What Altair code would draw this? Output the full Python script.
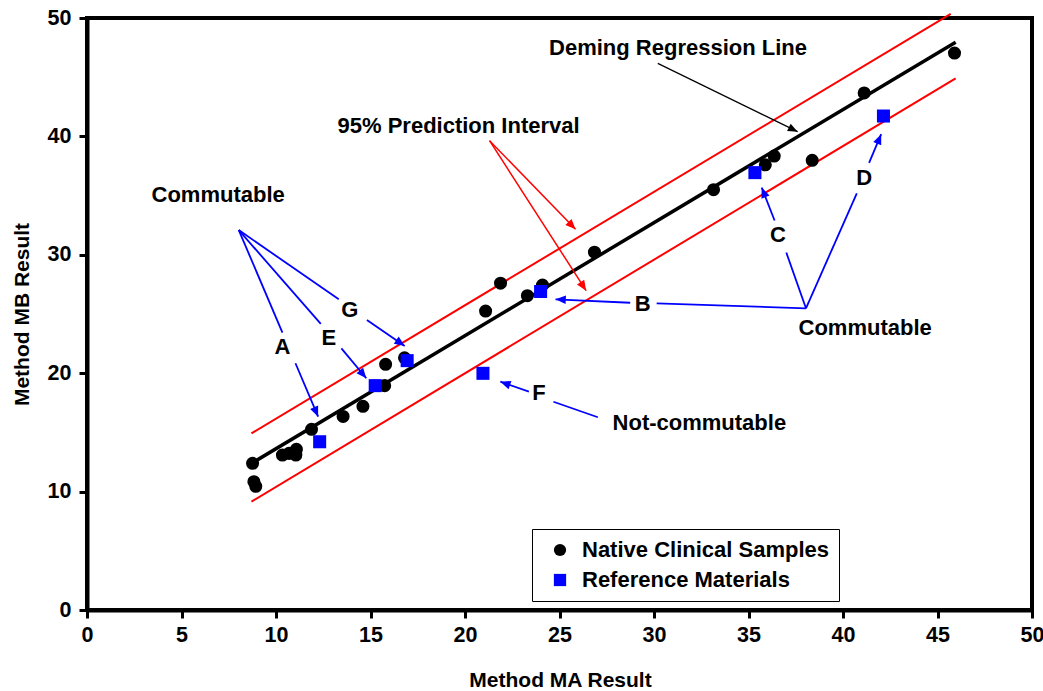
import math
import altair as alt
import pandas as pd

# ---------------- data ----------------
native_x = [8.76, 8.83, 8.93, 10.34, 10.69, 11.08, 11.05, 11.88, 13.55, 14.60, 15.75, 15.80,
            16.80, 21.09, 21.88, 23.30, 24.10, 26.85, 33.15, 35.89, 36.36, 38.37, 41.12, 45.90]
native_y = [12.39, 10.84, 10.45, 13.09, 13.23, 13.57, 13.09, 15.26, 16.35, 17.20, 18.95, 20.75,
            21.30, 25.25, 27.60, 26.55, 27.45, 30.22, 35.50, 37.60, 38.34, 37.98, 43.67, 47.04]

ref_x = [12.31, 15.25, 16.94, 20.95, 24.00, 35.34, 42.14]
ref_y = [14.21, 18.95, 21.06, 19.99, 26.90, 36.94, 41.72]

groups = ["Native Clinical Samples", "Reference Materials"]

# regression line and 95% prediction interval (end points)
line_x1 = [8.70, 8.72, 8.70]
line_y1 = [14.92, 12.40, 9.15]
line_x2 = [45.70, 45.96, 45.96]
line_y2 = [50.35, 47.95, 44.90]
line_color = ["red", "black", "red"]
line_width = [2.0, 3.5, 2.0]

# annotation connector segments
seg_x1 = [8.03, 11.03, 8.03, 13.46, 8.03, 14.81, 21.30, 21.30, 30.20, 28.74, 38.04, 38.04, 36.38, 38.04, 41.38, 23.38, 24.68]
seg_y1 = [32.09, 20.84, 32.09, 22.10, 32.09, 24.49, 39.64, 39.64, 46.17, 25.95, 25.48, 25.48, 32.90, 25.48, 37.76, 18.44, 17.59]
seg_x2 = [10.34, 12.23, 12.37, 14.78, 13.32, 16.81, 25.85, 26.41, 37.60, 24.79, 30.14, 37.00, 35.70, 40.73, 42.02, 21.87, 27.03]
seg_y2 = [23.42, 16.33, 24.16, 19.57, 26.24, 22.30, 32.15, 26.97, 40.40, 26.24, 25.90, 30.19, 35.68, 35.19, 40.19, 19.28, 16.28]
seg_color = ["blue"] * 6 + ["red", "red", "black"] + ["blue"] * 8
seg_arrow = [False, True, False, True, False, True, True, True, True, True, False, False, True, False, True, True, False]

# annotation texts
text_label = ["Deming Regression Line", "95% Prediction Interval", "Commutable", "A", "E", "G",
              "B", "C", "D", "F", "Commutable", "Not-commutable"]
text_x = [31.27, 19.66, 6.94, 10.34, 12.79, 13.90, 29.40, 36.56, 41.12, 23.91, 41.17, 32.40]
text_y = [47.44, 40.88, 35.05, 22.24, 23.00, 25.34, 25.84, 31.67, 36.48, 18.35, 23.82, 15.77]

x_ticks = [0, 5, 10, 15, 20, 25, 30, 35, 40, 45, 50]
y_ticks = [0, 10, 20, 30, 40, 50]

# ---------------- layout ----------------
W, H = 945, 592
FONT = "Liberation Sans"
px_x = W / 50.0
px_y = H / 50.0

xs = alt.Scale(domain=[0, 50], nice=False, zero=False)
ys = alt.Scale(domain=[0, 50], nice=False, zero=False)

x_axis = alt.Axis(values=x_ticks, title="Method MA Result", grid=False, format="d", labelFlush=False,
                  domainColor="black", domainWidth=4, tickColor="black", tickWidth=3, tickSize=8,
                  labelFont=FONT, labelFontWeight="bold", labelFontSize=21.5, labelColor="black",
                  labelPadding=6, titleFont=FONT, titleFontWeight="bold", titleFontSize=21,
                  titleColor="black", titleX=473, titleY=70, titleBaseline="middle")
y_axis = alt.Axis(values=y_ticks, title="Method MB Result", grid=False, format="d", labelFlush=False,
                  domainColor="black", domainWidth=4, tickColor="black", tickWidth=3, tickSize=8,
                  labelFont=FONT, labelFontWeight="bold", labelFontSize=21.5, labelColor="black",
                  labelPadding=8, titleFont=FONT, titleFontWeight="bold", titleFontSize=21,
                  titleColor="black", titleX=-65, titleY=296, titleBaseline="middle")

X = alt.X("x:Q", scale=xs, axis=x_axis)
Y = alt.Y("y:Q", scale=ys, axis=y_axis)

layers = []

# regression + prediction interval lines
lines_df = pd.DataFrame({"x": line_x1, "y": line_y1, "x2": line_x2, "y2": line_y2,
                         "c": line_color, "w": line_width})
for c, w in [("red", 2.0), ("black", 3.5)]:
    d = lines_df[(lines_df.c == c) & (lines_df.w == w)]
    layers.append(alt.Chart(d).mark_rule(color=c, strokeWidth=w, strokeCap="butt").encode(
        x=X, y=Y, x2="x2:Q", y2="y2:Q"))

# annotation segments
seg_df = pd.DataFrame({"x": seg_x1, "y": seg_y1, "x2": seg_x2, "y2": seg_y2,
                       "c": seg_color, "arrow": seg_arrow})
widths = {"blue": 1.8, "red": 1.5, "black": 1.2}
for c in ["blue", "red", "black"]:
    d = seg_df[seg_df.c == c]
    layers.append(alt.Chart(d).mark_rule(color=c, strokeWidth=widths[c]).encode(
        x=X, y=Y, x2="x2:Q", y2="y2:Q"))

# arrow heads at segment ends
heads = seg_df[seg_df.arrow].copy()
heads["angle"] = [
    (math.degrees(math.atan2((b2 - b1) * px_x, (d2 - d1) * px_y)) + 360) % 360
    for b1, d1, b2, d2 in zip(heads.x, heads.y, heads.x2, heads.y2)
]
heads["x"] = heads["x2"]
heads["y"] = heads["y2"]
for c in ["blue", "red", "black"]:
    d = heads[heads.c == c][["x", "y", "angle"]]
    if len(d) == 0:
        continue
    layers.append(alt.Chart(d).mark_point(shape="M0,0L-0.42,1L0.42,1Z", filled=True, color=c,
                                          opacity=1, size=420 if c != "black" else 380,
                                          strokeWidth=0).encode(
        x=X, y=Y, angle=alt.Angle("angle:Q", scale=None)))

# data points
pts = pd.DataFrame({
    "x": native_x + ref_x,
    "y": native_y + ref_y,
    "group": [groups[0]] * len(native_x) + [groups[1]] * len(ref_x),
})
legend = alt.Legend(title=None, orient="none", legendX=445, legendY=511,
                    labelFont=FONT, labelFontWeight="bold", labelFontSize=22, labelColor="black",
                    labelLimit=0,
                    symbolSize=150, symbolStrokeWidth=0, strokeColor="black", fillColor="white",
                    padding=10, symbolOffset=7, labelOffset=11, rowPadding=8)
layers.append(alt.Chart(pts).mark_point(filled=True, opacity=1, size=170).encode(
    x=X, y=Y,
    color=alt.Color("group:N", scale=alt.Scale(domain=groups, range=["black", "blue"]), legend=legend),
    shape=alt.Shape("group:N", scale=alt.Scale(domain=groups, range=["circle", "square"]), legend=legend),
))

# texts
txt = pd.DataFrame({"x": text_x, "y": text_y, "t": text_label})
layers.append(alt.Chart(txt).mark_text(font=FONT, fontWeight="bold", fontSize=22, color="black",
                                       align="center", baseline="middle").encode(
    x=X, y=Y, text="t:N"))

chart = alt.layer(*layers).properties(
    width=W, height=H,
    autosize=alt.AutoSizeParams(type="none"),
    padding={"left": 87, "top": 18, "right": 11, "bottom": 81},
    background="white",
).configure_view(stroke="black", strokeWidth=4)

chart.save("out.html", embed_options={"renderer": "svg", "actions": False})
